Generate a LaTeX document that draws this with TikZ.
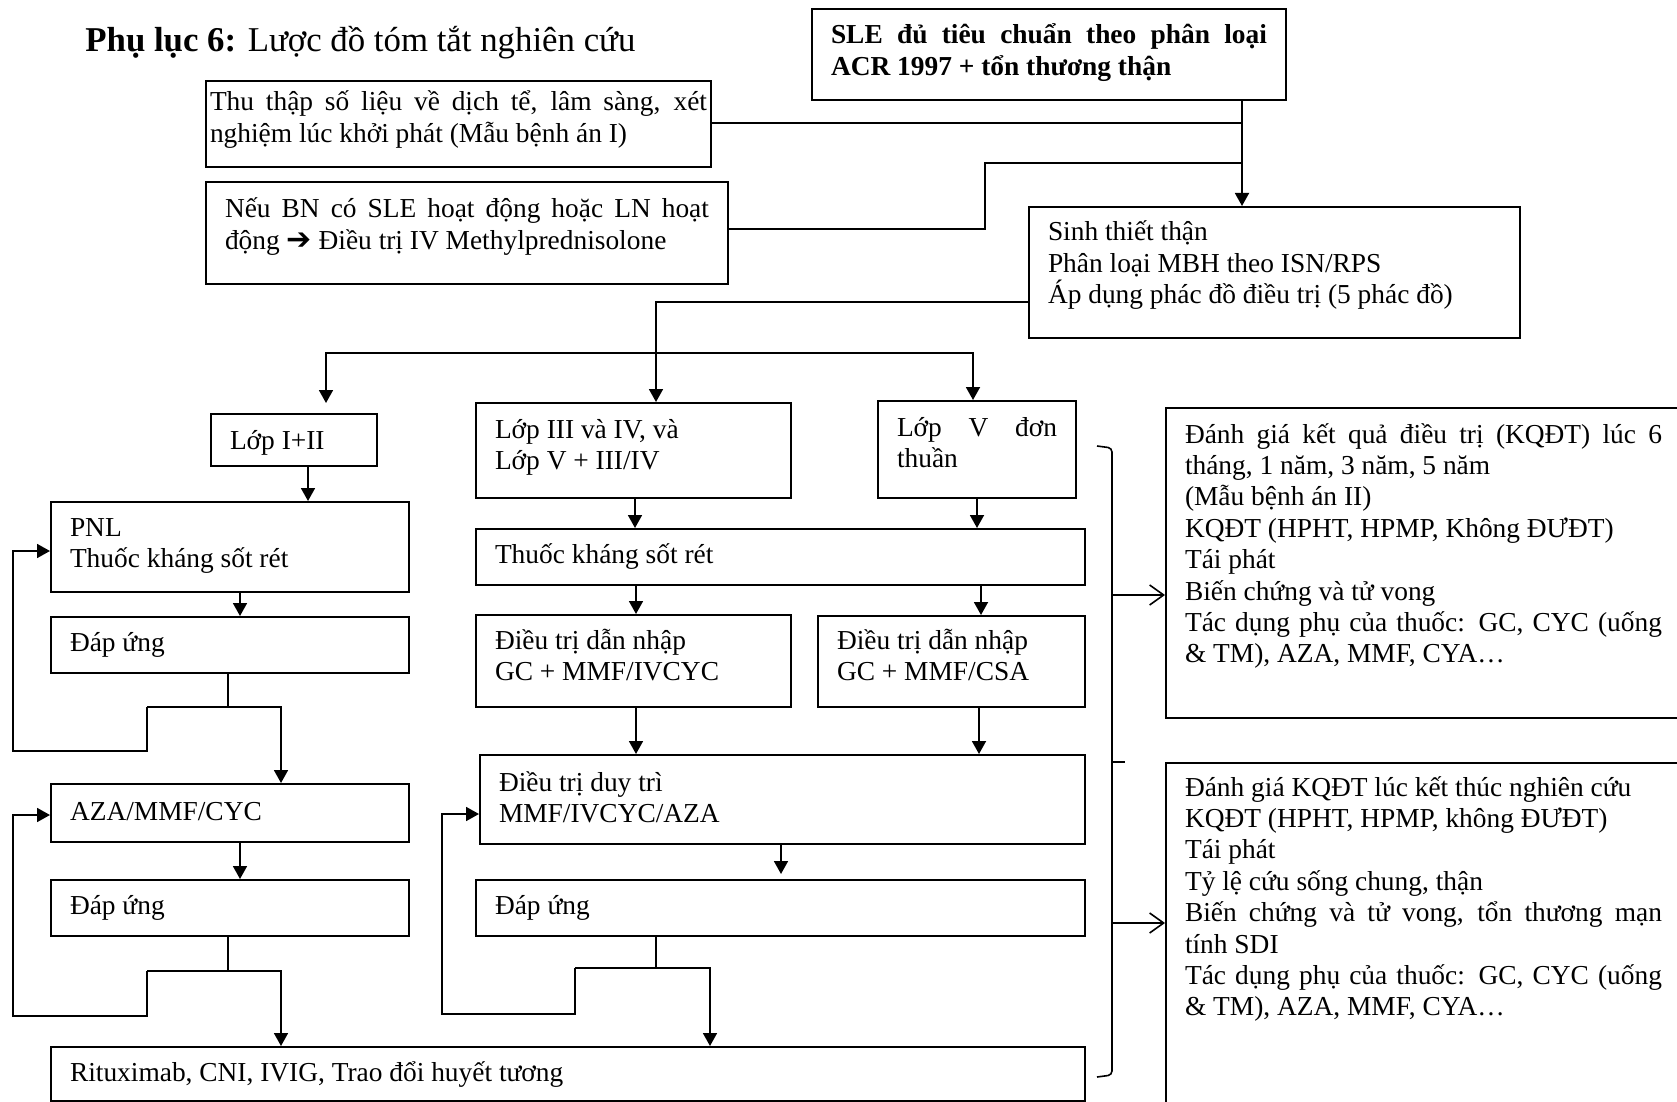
\documentclass[tikz,border=0pt]{standalone}
\usepackage{fontspec}
\setmainfont{Liberation Serif}
\newfontfamily\arrowfont{DejaVu Sans}
\usetikzlibrary{arrows.meta,positioning}
\tikzset{
  box/.style={draw,line width=1pt,anchor=north west,inner xsep=9.5pt,inner ysep=0pt,align=justify,text height=17pt,
    font=\fontsize{13.7}{15.7}\selectfont,execute at begin node={\tolerance=10000 \hyphenpenalty=10000 }},
  ln/.style={line width=0.9pt},
  arr/.style={ln,-{Triangle[length=6.5pt,width=7pt]}},
  barb/.style={line width=0.8pt,-{Straight Barb[length=7pt,width=10pt]}}
}
\begin{document}
\begin{tikzpicture}[x=0.5pt,y=-0.5pt]
    \useasboundingbox (0,0) rectangle (1677,1102);
    \clip (0,0) rectangle (1677,1102);
    \node[anchor=base west,inner sep=0pt,font=\fontsize{17.4}{20}\selectfont] (title) at (85,52) {\textbf{Phụ lục 6:} Lược đồ tóm tắt nghiên cứu};
    \node[box,inner xsep=2pt,text width=248.5pt,text height=15pt,text depth=28pt] (collect) at (205,80) {Thu thập số liệu về dịch tể, lâm sàng, xét\linebreak nghiệm lúc khởi phát (Mẫu bệnh án I)};
    \node[box,text width=242pt,text height=18pt,text depth=33pt] (ivmp) at (205,181) {Nếu BN có SLE hoạt động hoặc LN hoạt\linebreak động {\arrowfont\fontsize{15}{15}\selectfont ➔} Điều trị IV Methylprednisolone};
    \node[box,text width=218pt,text height=17.5pt,text depth=28pt] (sle) at (811,8) {\bfseries SLE đủ tiêu chuẩn theo phân loại\linebreak ACR 1997 + tổn thương thận};
    \node[box,text width=226.5pt,text depth=48.5pt] (biopsy) at (1028,206) {Sinh thiết thận\\ Phân loại MBH theo ISN/RPS\\ Áp dụng phác đồ điều trị (5 phác đồ)};
    \node[box,text width=64pt,text height=17.5pt,text depth=8.5pt] (cls12) at (210,413) {Lớp I+II};
    \node[box,text width=138.5pt,text height=17.5pt,text depth=30pt] (cls34) at (475,402) {Lớp III và IV, và\\ Lớp V + III/IV};
    \node[box,text width=80pt,text height=17.5pt,text depth=31pt] (cls5) at (877,400) {Lớp V đơn\linebreak thuần};
    \node[box,text width=160pt,text depth=28pt] (pnl) at (50,501) {PNL\\ Thuốc kháng sốt rét};
    \node[box,text width=160pt,text depth=11pt] (resp1) at (50,616) {Đáp ứng};
    \node[box,text width=160pt,text height=18pt,text depth=11pt] (aza) at (50,783) {AZA/MMF/CYC};
    \node[box,text width=160pt,text depth=11pt] (resp2) at (50,879) {Đáp ứng};
    \node[box,text width=498pt,text depth=10pt] (rescue) at (50,1046) {Rituximab, CNI, IVIG, Trao đổi huyết tương};
    \node[box,text width=285.5pt,text depth=11pt] (antimal) at (475,528) {Thuốc kháng sốt rét};
    \node[box,text width=138.5pt,text depth=29pt] (induct1) at (475,614) {Điều trị dẫn nhập\\ GC + MMF/IVCYC};
    \node[box,text width=114.5pt,text height=16.5pt,text depth=29pt] (induct2) at (817,615) {Điều trị dẫn nhập\\ GC + MMF/CSA};
    \node[box,text width=283.5pt,text height=18pt,text depth=26.5pt] (maint) at (479,754) {Điều trị duy trì\\ MMF/IVCYC/AZA};
    \node[box,text width=285.5pt,text depth=11pt] (resp3) at (475,879) {Đáp ứng};
    \node[box,text width=238.5pt,text height=17.5pt,text depth=137.5pt] (eval1) at (1165,407) {Đánh giá kết quả điều trị (KQĐT) lúc 6\linebreak tháng, 1 năm, 3 năm, 5 năm\\ (Mẫu bệnh án II)\\ KQĐT (HPHT, HPMP, Không ĐƯĐT)\\ Tái phát\\ Biến chứng và tử vong\\ Tác dụng phụ của thuốc: GC, CYC (uống\linebreak \& TM), AZA, MMF, CYA…};
    \node[box,text width=238.5pt,text height=16.5pt,text depth=157.5pt] (eval2) at (1165,762) {Đánh giá KQĐT lúc kết thúc nghiên cứu\\ KQĐT (HPHT, HPMP, không ĐƯĐT)\\ Tái phát\\ Tỷ lệ cứu sống chung, thận\\ Biến chứng và tử vong, tổn thương mạn\linebreak tính SDI\\ Tác dụng phụ của thuốc: GC, CYC (uống\linebreak \& TM), AZA, MMF, CYA…};
    \draw[arr] (sle.south -| 1242,0) -- (biopsy.north -| 1242,0);
    \draw[ln] (collect.east |- 0,123) -- (1242,123);
    \draw[ln] (ivmp.east |- 0,229) -| (985,163) -- (1242,163);
    \draw[arr] (biopsy.west |- 0,302) -| (cls34.north -| 656,0);
    \draw[arr] (656,353) -| ([yshift=5pt]cls12.north -| 326,0);
    \draw[arr] (656,353) -| (cls5.north -| 973,0);
    \draw[arr] (cls12.south -| 308,0) -- (pnl.north -| 308,0);
    \draw[arr] (pnl.south -| 240,0) -- (resp1.north -| 240,0);
    \draw[ln] (resp1.south -| 228,0) -- (228,707);
    \draw[arr] (147,707) -| (aza.north -| 281,0);
    \draw[arr] (147,707) -- (147,751) -| (13,551) -- (pnl.west |- 0,551);
    \draw[arr] (aza.south -| 240,0) -- (resp2.north -| 240,0);
    \draw[ln] (resp2.south -| 228,0) -- (228,971);
    \draw[arr] (147,971) -| (rescue.north -| 281,0);
    \draw[arr] (147,971) -- (147,1016) -| (13,815) -- (aza.west |- 0,815);
    \draw[arr] (cls34.south -| 635,0) -- (antimal.north -| 635,0);
    \draw[arr] (cls5.south -| 977,0) -- (antimal.north -| 977,0);
    \draw[arr] (antimal.south -| 636,0) -- (induct1.north -| 636,0);
    \draw[arr] (antimal.south -| 981,0) -- (induct2.north -| 981,0);
    \draw[arr] (induct1.south -| 636,0) -- (maint.north -| 636,0);
    \draw[arr] (induct2.south -| 979,0) -- (maint.north -| 979,0);
    \draw[arr] (maint.south -| 781,0) -- ([yshift=2.5pt]resp3.north -| 781,0);
    \draw[ln] (resp3.south -| 656,0) -- (656,968);
    \draw[arr] (575,968) -| (rescue.north -| 710,0);
    \draw[arr] (575,968) -- (575,1014) -| (442,814) -- (maint.west |- 0,814);
    \draw[line width=0.8pt,rounded corners=2pt] (1097,446) -- (1112,448) -- (1112,1075) -- (1097,1077);
    \draw[line width=0.8pt] (1112,762) -- (1125,762);
    \coordinate (brA) at (1112,595);
    \coordinate (brB) at (1112,923);
    \draw[barb] (brA) -- (eval1.west |- brA);
    \draw[barb] (brB) -- (eval2.west |- brB);
\end{tikzpicture}
\end{document}
